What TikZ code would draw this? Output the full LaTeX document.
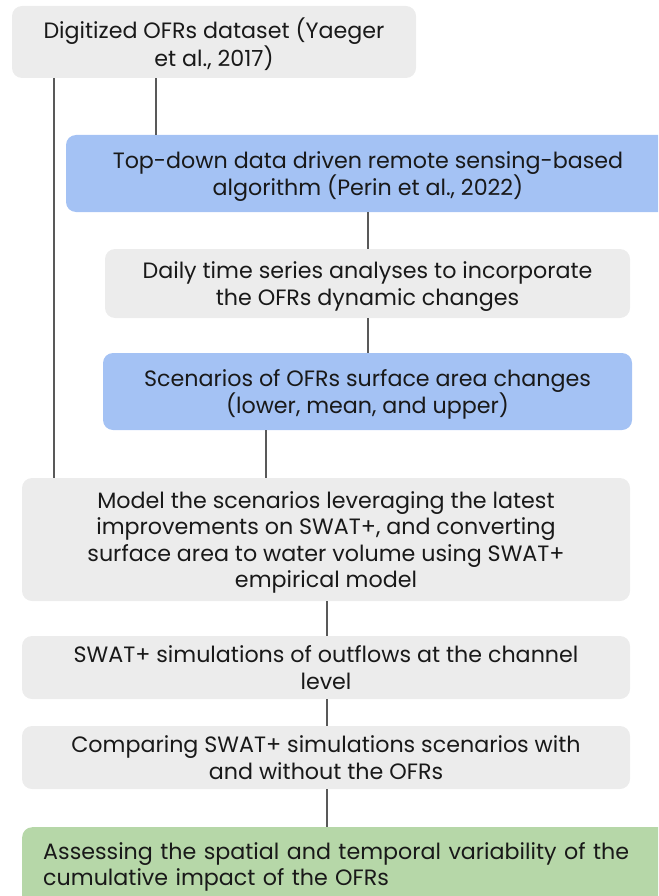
\documentclass[tikz,border=0pt]{standalone}
\usepackage{fontspec}
\setmainfont{Poppins}
\usepackage{tikz}
\usetikzlibrary{calc}
\definecolor{boxgrey}{HTML}{ECECEC}
\definecolor{boxblue}{HTML}{A4C2F4}
\definecolor{boxgreen}{HTML}{B6D7A8}
\definecolor{linegrey}{HTML}{595959}
\tikzset{
    flow line/.style={draw=linegrey, line width=1.3pt},
    step box/.style={rounded corners=10pt, inner sep=0pt, align=center,
      font=\fontsize{22.2}{26.5}\selectfont, text=black!90, text depth=0pt},
    grey box/.style={step box, fill=boxgrey},
    blue box/.style={step box, fill=boxblue},
    green box/.style={step box, fill=boxgreen}
}
\begin{document}
\begin{tikzpicture}[x=1pt, y=-1pt]
  \useasboundingbox (0,0) rectangle (658,896);
  \clip (0,0) rectangle (658,896);

  \coordinate (xl) at (54,0);
  \coordinate (xa) at (156,0);
  \coordinate (xb) at (368,0);
  \coordinate (xc) at (266,0);
  \coordinate (xd) at (327,0);

  % boxes
  \node [grey box, minimum width=404, minimum height=72] (dataset) at (214,42)
  {Digitized OFRs dataset (Yaeger\\et al., 2017)};
  \node [blue box, minimum width=604, minimum height=77] (algo) at (368,173.5)
  {Top-down data driven remote sensing-based\\algorithm (Perin et al., 2022)};
  \node [grey box, minimum width=525, minimum height=69] (daily) at (367.5,283.5)
  {Daily time series analyses to incorporate\\the OFRs dynamic changes};
  \node [blue box, minimum width=529, minimum height=77] (scen) at (367.5,391.5)
  {Scenarios of OFRs surface area changes\\(lower, mean, and upper)};
  \node [grey box, minimum width=608, minimum height=123] (model) at (326,539.5)
  {Model the scenarios leveraging the latest\\improvements on SWAT+, and converting\\
    surface area to water volume using SWAT+\\empirical model};
  \node [grey box, minimum width=608, minimum height=63] (sim) at (326,667.5)
  {SWAT+ simulations of outflows at the channel\\level};
  \node [grey box, minimum width=608, minimum height=63] (comp) at (326,757.5)
  {Comparing SWAT+ simulations scenarios with\\and without the OFRs};
  \node [green box, anchor=north west, align=left, inner xsep=21pt,
    inner ysep=15pt, text width=640, text depth=] (assess) at (22,827)
  {Assessing the spatial and temporal variability of the\\
    cumulative impact of the OFRs\\ \mbox{}};

  % links
  \draw [flow line] (dataset.south -| xl) -- (model.north -| xl);
  \draw [flow line] (dataset.south -| xa) -- (algo.north -| xa);
  \draw [flow line] (algo.south -| xb) -- (daily.north -| xb);
  \draw [flow line] (daily.south -| xb) -- (scen.north -| xb);
  \draw [flow line] (scen.south -| xc) -- (model.north -| xc);
  \draw [flow line] (model.south -| xd) -- (sim.north -| xd);
  \draw [flow line] (sim.south -| xd) -- (comp.north -| xd);
  \draw [flow line] (comp.south -| xd) -- (assess.north -| xd);
\end{tikzpicture}
\end{document}
